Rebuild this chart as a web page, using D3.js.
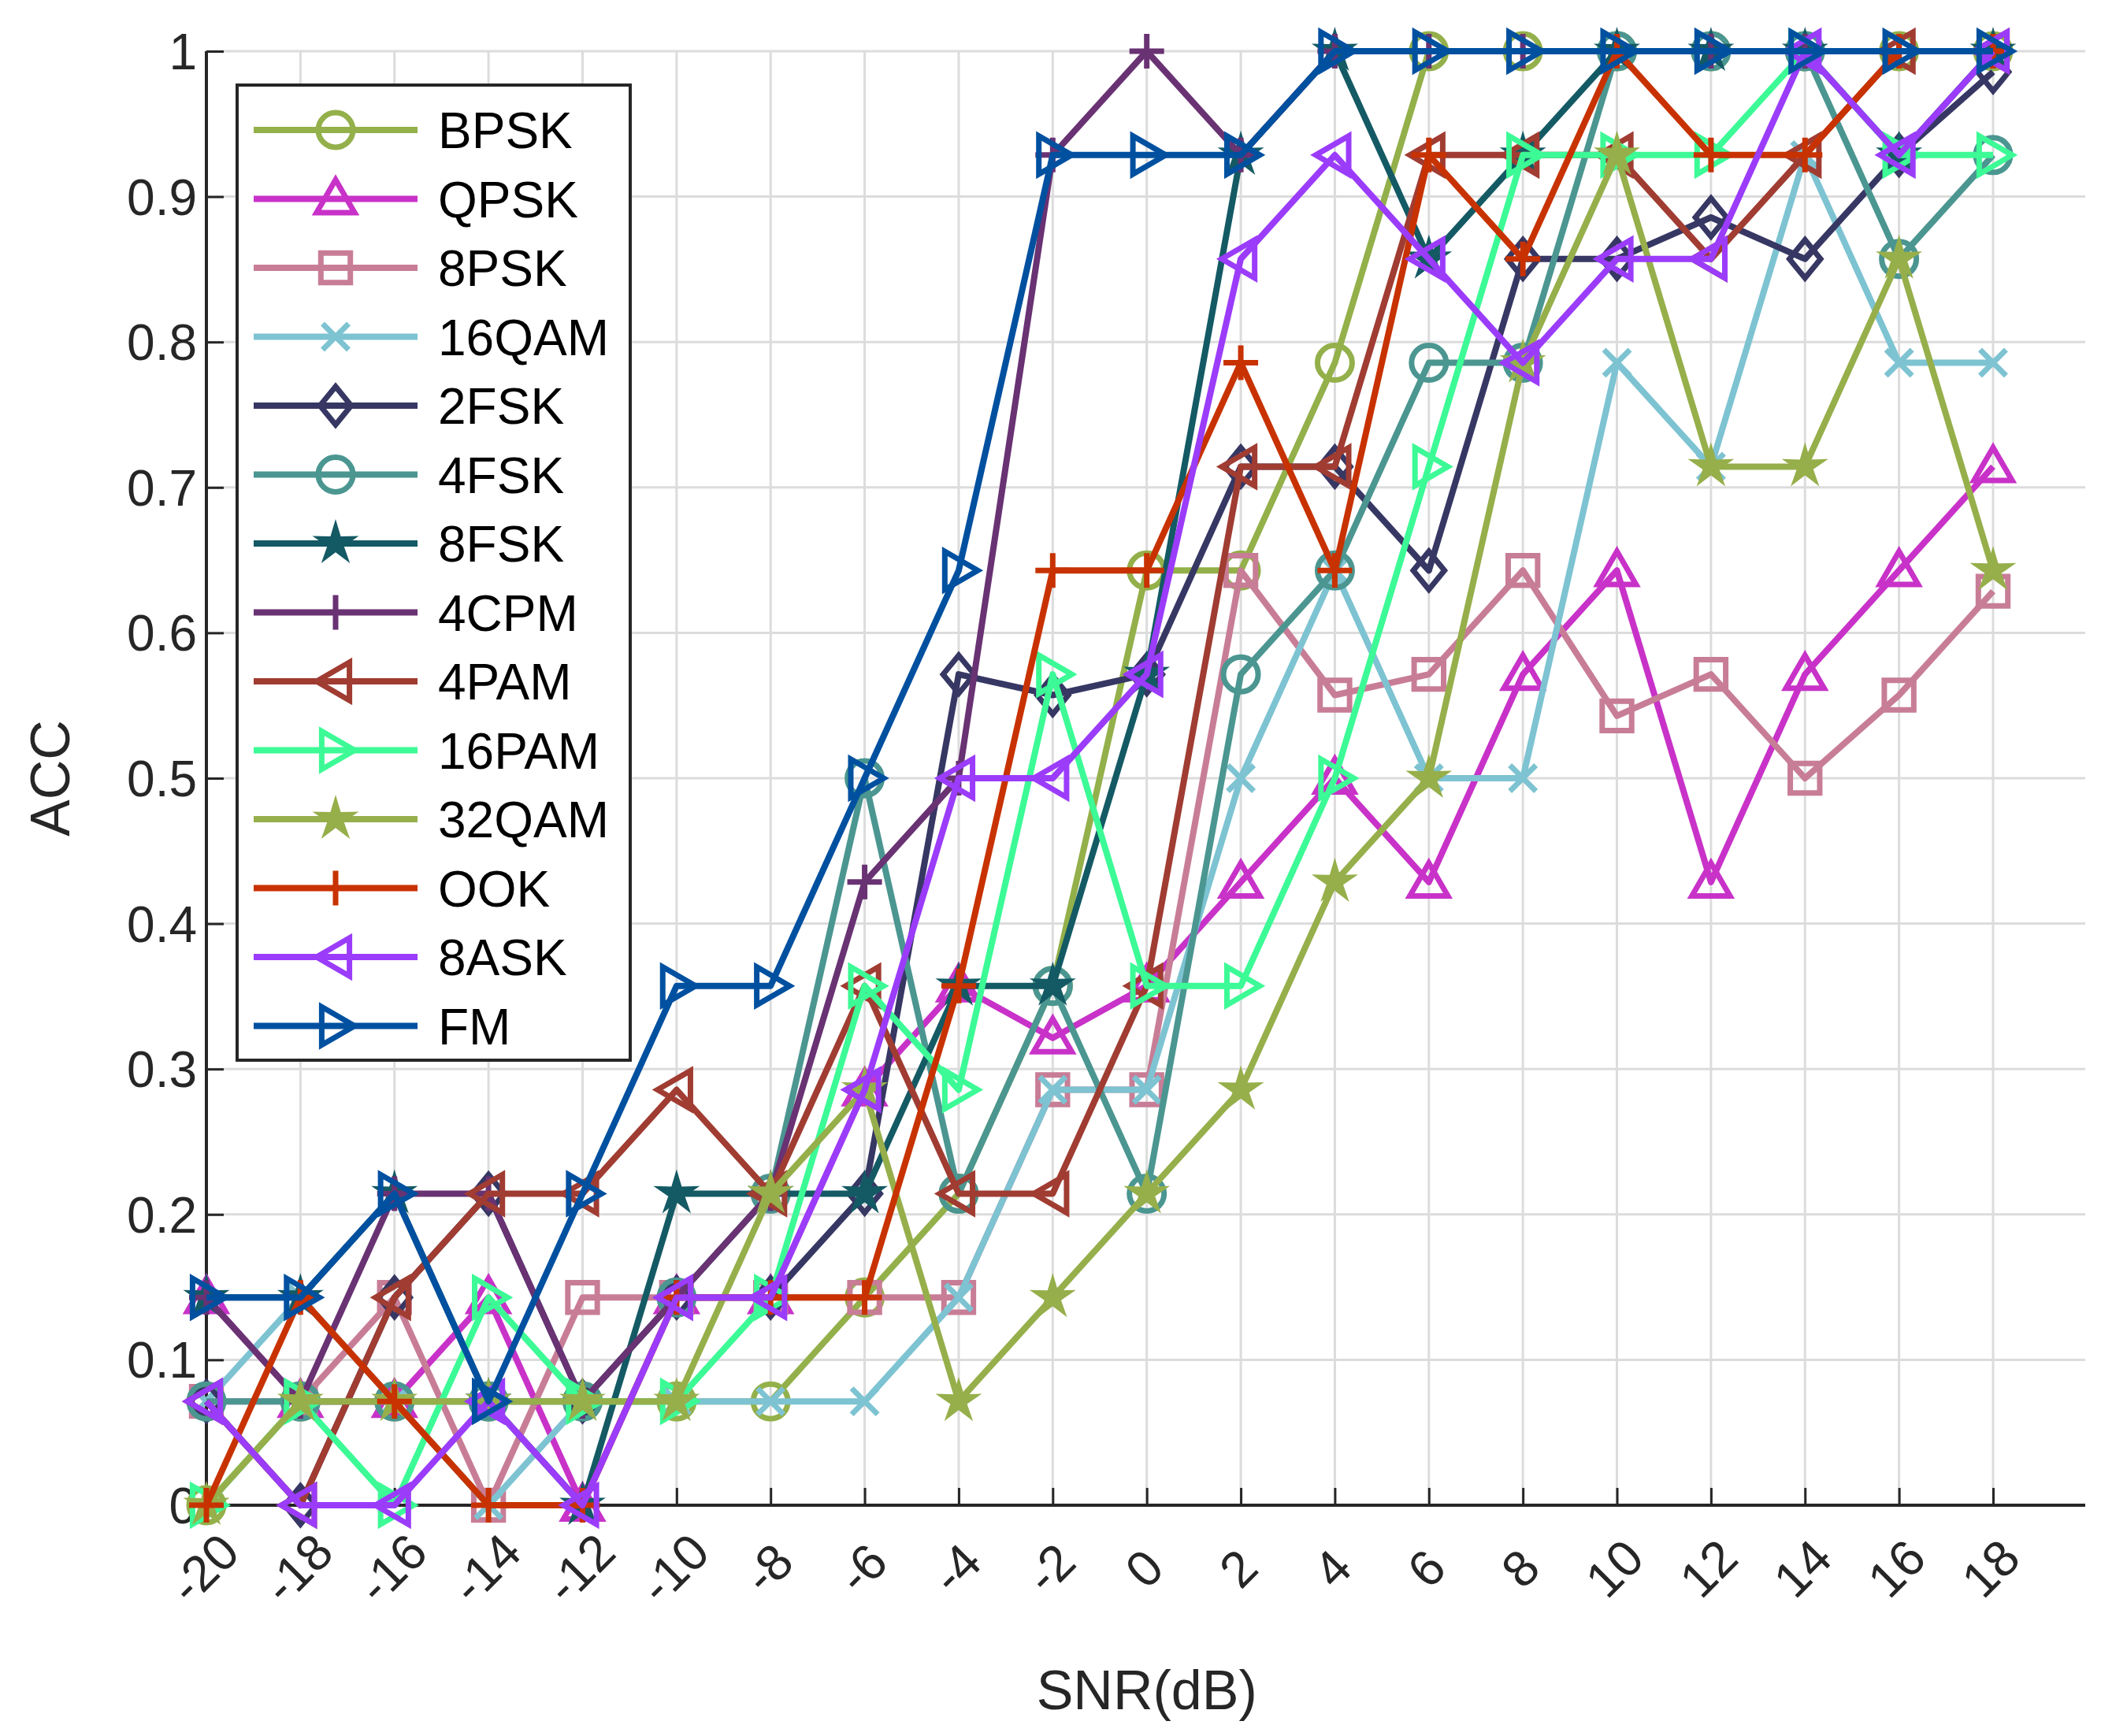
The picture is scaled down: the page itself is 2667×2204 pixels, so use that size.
<!DOCTYPE html>
<html><head><meta charset="utf-8">
<script src="https://cdn.jsdelivr.net/npm/d3@7/dist/d3.min.js"></script>
<style>body{margin:0;background:#fff}text{font-family:Arial,"Liberation Sans",sans-serif}</style>
</head><body><svg id="chart" width="2667" height="2204"></svg>
<script>
const snr = [-20,-18,-16,-14,-12,-10,-8,-6,-4,-2,0,2,4,6,8,10,12,14,16,18];
const yTicks = [0,0.1,0.2,0.3,0.4,0.5,0.6,0.7,0.8,0.9,1];
const names = ['BPSK','QPSK','8PSK','16QAM','2FSK','4FSK','8FSK','4CPM','4PAM','16PAM','32QAM','OOK','8ASK','FM'];
const colors = ['#93B04A','#C832C8','#C87D96','#7DC3D2','#373764','#4B9691','#145A64','#693273','#A03C32','#3CFA96','#96AF4B','#C83200','#9B3CFA','#0050A0'];
const markers = ['circle','triUp','square','x','diamond','circle','star','plus','triLeft','triRight','star','plus','triLeft','triRight'];
// values in fourteenths of accuracy
const bpsk  = [0,1,1,1,1,1,1,2,3,5,9,9,11,14,14,14,14,14,14,14];
const qpsk  = [2,1,1,2,0,2,2,4,5,4.5,5,6,7,6,8,9,6,8,9,10];
const psk8  = [1,1,2,0,2,2,2,2,2,4,4,9,7.8,8,9,7.6,8,7,7.8,8.8];
const qam16 = [1,2,1,0,1,1,1,1,2,4,4,7,9,7,7,11,10,13,11,11];
const fsk2  = [1,0,2,3,1,2,2,3,8,7.8,8,10,10,9,12,12,12.4,12,13,13.8];
const fsk4  = [1,1,1,1,1,2,3,7,3,5,3,8,9,11,11,14,14,14,12,13];
const fsk8  = [2,2,3,1,0,3,3,3,5,5,8,13,14,12,13,14,14,14,13,14];
const cpm4  = [2,1,3,3,1,2,3,6,7,13,14,13,14,14,14,14,14,14,14,14];
const pam4  = [1,0,2,3,3,4,3,5,3,3,5,10,10,13,13,13,12,13,14,14];
const pam16 = [0,1,0,2,1,1,2,5,4,8,5,5,7,10,13,13,13,14,13,13];
const qam32 = [0,1,1,1,1,1,3,4,1,2,3,4,6,7,11,13,10,10,12,9];
const ook   = [0,2,1,0,0,2,2,2,5,9,9,11,9,13,12,14,13,13,14,14];
const ask8  = [1,0,0,1,0,2,2,4,7,7,8,12,13,12,11,12,12,14,13,14];
const fm    = [2,2,3,1,3,5,5,7,9,13,13,13,14,14,14,14,14,14,14,14];
const series = [bpsk,qpsk,psk8,qam16,fsk2,fsk4,fsk8,cpm4,pam4,pam16,qam32,ook,ask8,fm];

const svg = d3.select('#chart');
const L = 262, R = 2647, T = 65, B = 1911;
const x = d3.scaleLinear().range([L, R]);
x.domain([-20, -20 + (R - L) / ((2530 - 262) / 38)]);
const y = d3.scaleLinear().domain([0,1]).range([B,T]);

// grid
svg.append('g').selectAll('line').data(snr).join('line')
  .attr('x1', d => x(d)).attr('x2', d => x(d)).attr('y1', T).attr('y2', B)
  .attr('stroke', '#dcdcdc').attr('stroke-width', 3);
svg.append('g').selectAll('line').data(yTicks).join('line')
  .attr('x1', L).attr('x2', R).attr('y1', d => y(d)).attr('y2', d => y(d))
  .attr('stroke', '#dcdcdc').attr('stroke-width', 3);

// axes
const xAxis = svg.append('g').attr('transform', `translate(0,${B})`)
  .call(d3.axisBottom(x).tickValues(snr).tickSize(-22).tickFormat(d => String(d)));
xAxis.selectAll('text').attr('y', 0).attr('dy', 0)
  .attr('text-anchor', 'middle')
  .attr('transform', 'translate(0,84) rotate(-45)')
  .attr('dominant-baseline', 'middle');
const yAxis = svg.append('g').attr('transform', `translate(${L},0)`)
  .call(d3.axisLeft(y).tickValues(yTicks).tickSize(-22).tickFormat(d => d === 0 ? '0' : d === 1 ? '1' : d3.format('.1f')(d)));
[xAxis, yAxis].forEach(g => {
  g.select('.domain').attr('stroke', '#262626').attr('stroke-width', 4);
  g.selectAll('.tick line').attr('stroke', '#262626').attr('stroke-width', 3);
  g.selectAll('text').attr('font-size', 64).attr('fill', '#262626');
});
yAxis.selectAll('text').attr('x', -12).attr('dy', '0.35em');
xAxis.select('.domain').attr('d', `M${L},0H${R}`);
yAxis.select('.domain').attr('d', `M0,${B}V${T}`);

svg.append('text').attr('x', x(0)).attr('y', 2170).attr('text-anchor', 'middle')
  .attr('font-size', 70).attr('fill', '#262626').text('SNR(dB)');
svg.append('text').attr('transform', 'translate(88,988) rotate(-90)').attr('text-anchor', 'middle')
  .attr('font-size', 70).attr('fill', '#262626').text('ACC');

const S = 22;
function markerPath(type) {
  const s = S;
  switch (type) {
    case 'circle': return `M${s},0A${s},${s} 0 1,1 ${-s},0A${s},${s} 0 1,1 ${s},0Z`;
    case 'square': return `M${-s*0.85},${-s*0.85}H${s*0.85}V${s*0.85}H${-s*0.85}Z`;
    case 'triUp': return `M0,${-s*1.1}L${s*1.1},${s*0.8}L${-s*1.1},${s*0.8}Z`;
    case 'triLeft': return `M${-s*1.1},0L${s*0.8},${-s*1.1}L${s*0.8},${s*1.1}Z`;
    case 'triRight': return `M${s*1.1},0L${-s*0.8},${-s*1.1}L${-s*0.8},${s*1.1}Z`;
    case 'diamond': return `M0,${-s*1.1}L${s*0.9},0L0,${s*1.1}L${-s*0.9},0Z`;
    case 'x': return `M${-s*0.75},${-s*0.75}L${s*0.75},${s*0.75}M${s*0.75},${-s*0.75}L${-s*0.75},${s*0.75}`;
    case 'plus': return `M0,${-s}V${s}M${-s},0H${s}`;
    case 'star': {
      const pts = d3.range(10).map(i => {
        const r = i % 2 ? s * 0.45 : s * 1.25, a = -Math.PI / 2 + i * Math.PI / 5;
        return [r * Math.cos(a), r * Math.sin(a)];
      });
      return 'M' + pts.join('L') + 'Z';
    }
  }
}
function drawMarker(g, type, color) {
  const filled = type === 'star';
  g.append('path').attr('d', markerPath(type))
    .attr('fill', filled ? color : 'none')
    .attr('stroke', color).attr('stroke-width', filled ? 2 : 7)
    .attr('stroke-linejoin', 'miter');
}

const line = d3.line().x((d, i) => x(snr[i])).y(d => y(d / 14));
const plot = svg.append('g');
series.forEach((vals, k) => {
  plot.append('path').datum(vals).attr('d', line)
    .attr('fill', 'none').attr('stroke', colors[k]).attr('stroke-width', 8)
    .attr('stroke-linejoin', 'round');
  vals.forEach((v, i) => {
    const g = plot.append('g').attr('transform', `translate(${x(snr[i])},${y(v / 14)})`);
    drawMarker(g, markers[k], colors[k]);
  });
});

// legend
const lg = svg.append('g');
lg.append('rect').attr('x', 301).attr('y', 108).attr('width', 499).attr('height', 1238)
  .attr('fill', '#fff').attr('stroke', '#262626').attr('stroke-width', 4);
names.forEach((n, k) => {
  const cy = 165 + k * 87.5;
  lg.append('line').attr('x1', 322).attr('x2', 530).attr('y1', cy).attr('y2', cy)
    .attr('stroke', colors[k]).attr('stroke-width', 8);
  drawMarker(lg.append('g').attr('transform', `translate(426,${cy})`), markers[k], colors[k]);
  lg.append('text').attr('x', 556).attr('y', cy).attr('dy', '0.36em')
    .attr('font-size', 64).attr('fill', '#000').text(n);
});
</script></body></html>
